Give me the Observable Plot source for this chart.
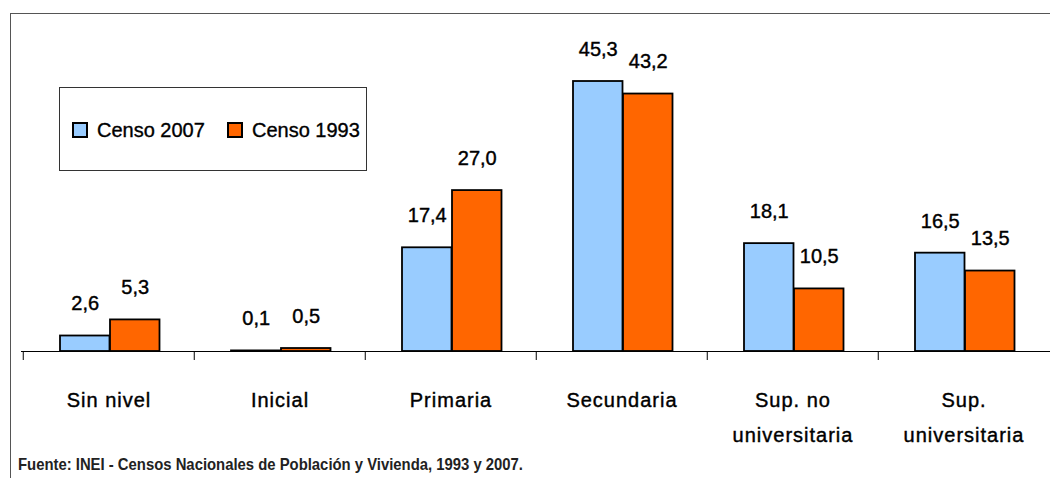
<!DOCTYPE html>
<html>
<head>
<meta charset="utf-8">
<script src="https://cdn.jsdelivr.net/npm/d3@7"></script>
<script src="https://cdn.jsdelivr.net/npm/@observablehq/plot@0.6"></script>
<style>
  html, body { margin: 0; padding: 0; background: #fff; }
  #wrap { position: relative; width: 1050px; height: 478px; overflow: hidden; font-family: "Liberation Sans", Arial, sans-serif; }
  #frame { position: absolute; left: 10px; top: 13px; width: 1100px; height: 520px; border: 1px solid #555; box-sizing: border-box; }
  #chart { position: absolute; left: 0; top: 0; }
  #legend { position: absolute; left: 59px; top: 87px; width: 308px; height: 84px; box-sizing: border-box; border: 1px solid #333; background: #fff; }
  .item { position: absolute; top: 32px; display: flex; align-items: center; font-size: 20px; color: #000; line-height: 20px; -webkit-text-stroke: 0.35px #000; }
  .sw { width: 16px; height: 16px; box-sizing: border-box; border: 2px solid #000; margin-right: 9px; }
  #footer { position: absolute; left: 18px; top: 455px; font-family: "Liberation Sans", Arial, sans-serif; font-weight: bold; font-size: 17px; color: #222; white-space: nowrap; transform-origin: 0 0; }
  g[aria-label="x-axis tick label"] text { letter-spacing: 1px; stroke: #000; stroke-width: 0.4px; }
  g[aria-label="text"] text { stroke: #000; stroke-width: 0.4px; }
</style>
</head>
<body>
<div id="wrap">
  <div id="frame"></div>
  <div id="chart"></div>
  <div id="legend"></div>
  <div id="footer"></div>
</div>
<script>
const categories = ["Sin nivel", "Inicial", "Primaria", "Secundaria", "Sup. no\nuniversitaria", "Sup.\nuniversitaria"];
const censo2007 = [2.6, 0.1, 17.4, 45.3, 18.1, 16.5];
const censo1993 = [5.3, 0.5, 27.0, 43.2, 10.5, 13.5];
const seriesNames = ["Censo 2007", "Censo 1993"];
const seriesColors = ["#99CCFF", "#FF6600"];
const footerText = "Fuente: INEI - Censos Nacionales de Población y Vivienda, 1993 y 2007.";

const rows2007 = categories.map((c, i) => ({cat: c, value: censo2007[i]}));
const rows1993 = categories.map((c, i) => ({cat: c, value: censo1993[i]}));
const fmt = v => d3.format(".1f")(v).replace(".", ",");

const W = 1050, ML = 21, MR = 0;
const step = (W - ML - MR) / categories.length;
const barW = 50, off = 37;
const half = step / 2;

const chart = Plot.plot({
  width: W,
  height: 478,
  marginTop: 53,
  marginBottom: 127,
  marginLeft: ML,
  marginRight: MR,
  style: {fontFamily: '"Liberation Sans", Arial, sans-serif', background: "transparent", overflow: "visible"},
  x: {domain: categories, padding: 0, label: null},
  y: {domain: [0, 50], axis: null},
  marks: [
    Plot.barY(rows2007, {x: "cat", y: "value", fill: seriesColors[0], stroke: "#000", strokeWidth: 1.8,
      insetLeft: off, insetRight: step - off - barW}),
    Plot.barY(rows1993, {x: "cat", y: "value", fill: seriesColors[1], stroke: "#000", strokeWidth: 1.8,
      insetLeft: off + barW, insetRight: step - off - 2 * barW}),
    Plot.ruleY([0], {stroke: "#000", strokeWidth: 1.2}),
    Plot.axisX({tickSize: 0, tickPadding: 31, fontSize: 20, lineHeight: 1.75, fill: "#000"}),
    Plot.axisX({tickSize: 9, text: null, dx: -half, stroke: "#000", strokeWidth: 1}),
    Plot.text(rows2007, {x: "cat", y: "value", text: d => fmt(d.value), dx: off + barW / 2 - half, dy: -32,
      fontSize: 20, fill: "#000"}),
    Plot.text(rows1993, {x: "cat", y: "value", text: d => fmt(d.value), dx: off + 1.5 * barW - half, dy: -32,
      fontSize: 20, fill: "#000"})
  ]
});
document.getElementById("chart").appendChild(chart);

const legend = document.getElementById("legend");
const lefts = [12, 167];
seriesNames.forEach((name, i) => {
  const it = document.createElement("div");
  it.className = "item";
  it.style.left = lefts[i] + "px";
  const sw = document.createElement("div");
  sw.className = "sw";
  sw.style.background = seriesColors[i];
  it.appendChild(sw);
  const t = document.createElement("span");
  t.textContent = name;
  it.appendChild(t);
  legend.appendChild(it);
});
const footer = document.getElementById("footer");
footer.textContent = footerText;
const fw = footer.getBoundingClientRect().width;
footer.style.transform = `scaleX(${505 / fw})`;
</script>
</body>
</html>
